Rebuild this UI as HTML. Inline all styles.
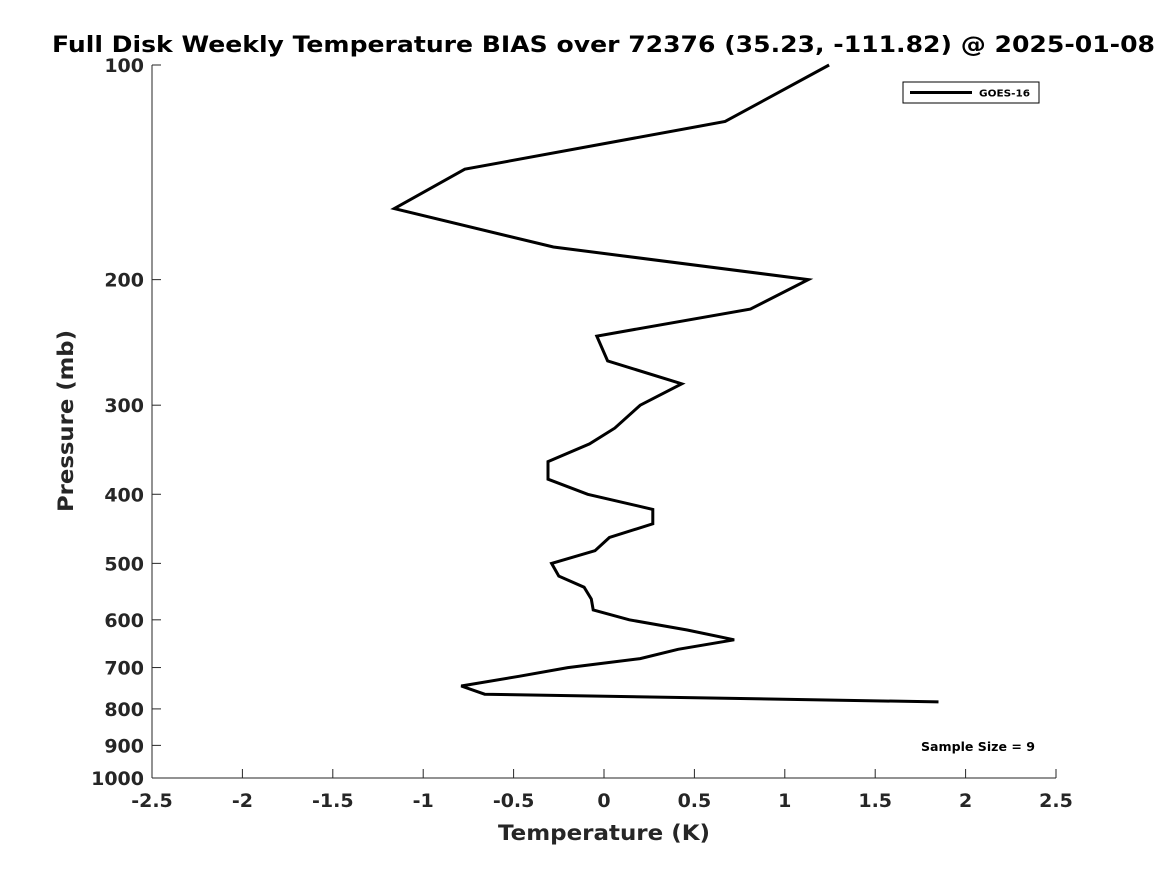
<!DOCTYPE html>
<html><head><meta charset="utf-8"><style>
body{margin:0;background:#fff;}
svg{display:block;font-family:"DejaVu Sans","Liberation Sans",sans-serif;}
</style></head><body>
<svg id="chart" width="1167" height="875" viewBox="0 0 1167 875" xmlns="http://www.w3.org/2000/svg">
<rect width="1167" height="875" fill="#fff"/>
<text x="52" y="52" font-size="22" font-weight="bold" fill="#000" textLength="1103" lengthAdjust="spacingAndGlyphs">Full Disk Weekly Temperature BIAS over 72376 (35.23, -111.82) @ 2025-01-08</text>
<g id="axes"></g>
<path id="line" fill="none" stroke="#000" stroke-width="3" stroke-linejoin="miter"/>
<g>
<rect x="903" y="82" width="136" height="21" fill="#fff" stroke="#000" stroke-width="1"/>
<line x1="910" y1="92.5" x2="972" y2="92.5" stroke="#000" stroke-width="3"/>
<text x="979" y="96.5" font-size="10" font-weight="bold" textLength="51" lengthAdjust="spacingAndGlyphs">GOES-16</text>
</g>
<text x="921" y="751" font-size="12" font-weight="bold" textLength="114" lengthAdjust="spacingAndGlyphs">Sample Size = 9</text>
<text x="498" y="840" font-size="21" font-weight="bold" fill="#262626" textLength="212" lengthAdjust="spacingAndGlyphs">Temperature (K)</text>
<text transform="translate(73,512) rotate(-90)" font-size="21" font-weight="bold" fill="#262626" textLength="182" lengthAdjust="spacingAndGlyphs">Pressure (mb)</text>
</svg>
<script>
const pressures=[100,120,140,159,180,200,220,240,260,280,300,323,340,360,381,400,420,440,460,480,500,521,540,561,581,600,620,640,660,680,700,720,743,763,782];
const bias=[1.245,0.67,-0.77,-1.16,-0.28,1.13,0.81,-0.04,0.02,0.43,0.2,0.06,-0.08,-0.31,-0.31,-0.09,0.27,0.27,0.03,-0.05,-0.29,-0.25,-0.11,-0.07,-0.06,0.14,0.46,0.72,0.41,0.2,-0.2,-0.47,-0.79,-0.66,1.85];
const xTicks=[-2.5,-2,-1.5,-1,-0.5,0,0.5,1,1.5,2,2.5];
const yTicks=[100,200,300,400,500,600,700,800,900,1000];
const X0=152,X1=1056,Y0=65,Y1=778;
function xs(v){return X0+(v+2.5)/5*(X1-X0);}
function ys(p){return Y0+Math.log10(p/100)*(Y1-Y0);}
const NS="http://www.w3.org/2000/svg";
const ax=document.getElementById('axes');
function mk(t,a){const e=document.createElementNS(NS,t);for(const k in a)e.setAttribute(k,a[k]);return e;}
let l=mk('line',{x1:X0,y1:Y0,x2:X0,y2:Y1,stroke:'#262626','stroke-width':1});


ax.appendChild(l);
l=mk('line',{x1:X0,y1:Y1,x2:X1,y2:Y1,stroke:'#262626','stroke-width':1});


ax.appendChild(l);
xTicks.forEach(v=>{const x=xs(v);
 const t=mk('line',{x1:x,y1:Y1,x2:x,y2:Y1-9,stroke:'#262626'});
 
 
 ax.appendChild(t);
 const s=mk('text',{x:x,y:Y1+29,'text-anchor':'middle','font-size':'19','font-weight':'bold',fill:'#262626'});
 s.textContent=String(v);
 
 
 ax.appendChild(s);});
yTicks.forEach(p=>{const y=ys(p);
 const t=mk('line',{x1:X0,y1:y,x2:X0+9,y2:y,stroke:'#262626'});
 
 
 ax.appendChild(t);
 const s=mk('text',{x:X0-8,y:y+7,'text-anchor':'end','font-size':'19','font-weight':'bold',fill:'#262626'});
 s.textContent=String(p);
 
 
 ax.appendChild(s);});
document.getElementById('line').setAttribute('d',pressures.map((p,i)=>(i?'L':'M')+xs(bias[i]).toFixed(1)+','+ys(p).toFixed(1)).join(''));
</script>
</body></html>
